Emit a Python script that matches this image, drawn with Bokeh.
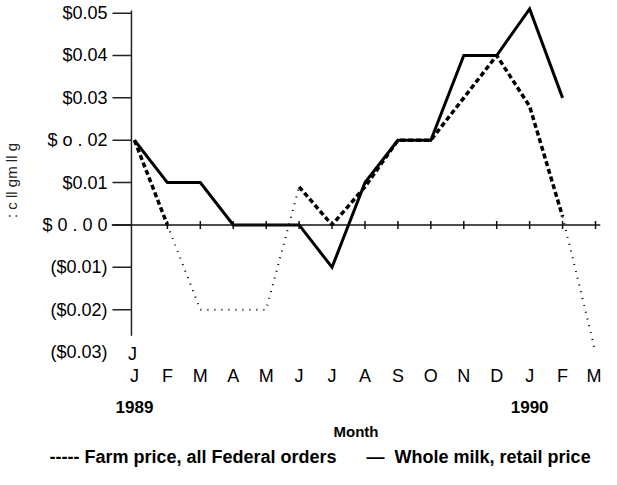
import math
import numpy as np
from bokeh.plotting import figure
from bokeh.models import FixedTicker, LinearAxis, Span, Label, ColumnDataSource, Range1d, Title
from bokeh.embed import file_html
from bokeh.resources import INLINE

# ---------------- data ----------------
month_labels = ["J", "F", "M", "A", "M", "J", "J", "A", "S", "O", "N", "D", "J", "F", "M"]
month_idx = list(range(len(month_labels)))
year_ticks = [0, 12]
year_labels = ["1989", "1990"]
# Farm price, all Federal orders
farm_price = [0.020, 0.000, -0.020, -0.020, -0.020, 0.009, 0.000, 0.009, 0.020,
              0.020, 0.030, 0.040, 0.028, 0.002, -0.030]
# Whole milk, retail price
retail_price = [0.020, 0.010, 0.010, 0.000, 0.000, 0.000, -0.010, 0.010, 0.020,
                0.020, 0.040, 0.040, 0.051, 0.030, float("nan")]
y_ticks = [-0.03, -0.02, -0.01, 0.0, 0.01, 0.02, 0.03, 0.04, 0.05]
y_tick_labels = ["($0.03)", "($0.02)", "($0.01)", "$ 0 . 0 0", "$0.01", "$ o . 02",
                 "$0.03", "$0.04", "$0.05"]
x_title = "Month"
y_title = ": c ll gm ll g"
legend_text = ("----- Farm price, all Federal orders" + "\u00a0" * 6 +
               "\u2014\u00a0 Whole milk, retail price")
axis_mark = "J"

FONT = "Liberation Sans"
INK = "#000"

# pixel -> data helpers (layout positions only)
def dx(px):
    return (px - 133) / 33.0

def dy(py):
    return (225.7 - py) / 4260.0

W, H = 601, 469
FRAME_BOTTOM = 362
p = figure(width=W, height=H, output_backend="svg", toolbar_location=None,
           x_range=Range1d(dx(110), dx(600)), y_range=Range1d(dy(FRAME_BOTTOM), dy(0)),
           min_border_left=110, min_border_right=1, min_border_top=0,
           min_border_bottom=H - FRAME_BOTTOM)
p.outline_line_color = None
p.xgrid.grid_line_color = None
p.ygrid.grid_line_color = None
p.background_fill_color = "white"
p.border_fill_color = "white"

# y axis: labels from Bokeh, axis line + ticks drawn inside the frame
ya = p.yaxis[0]
ya.ticker = FixedTicker(ticks=y_ticks)
ya.major_label_overrides = dict(zip(y_ticks, y_tick_labels))
ya.axis_line_color = None
ya.major_tick_line_color = None
ya.minor_tick_line_color = None
ya.major_tick_out = 0
ya.major_tick_in = 0
ya.minor_tick_out = 0
ya.minor_tick_in = 0
ya.major_label_standoff = 4
ya.major_label_text_font = FONT
ya.major_label_text_font_size = "18px"
ya.major_label_text_color = INK
ya.axis_label = y_title
ya.axis_label_text_font = FONT
ya.axis_label_text_font_size = "15px"
ya.axis_label_text_font_style = "normal"
ya.axis_label_text_color = "#222"
ya.axis_label_standoff = 19

# month axis
xa = p.xaxis[0]
xa.ticker = FixedTicker(ticks=month_idx)
xa.major_label_overrides = dict(zip(month_idx, month_labels))
xa.axis_line_color = None
xa.major_tick_line_color = None
xa.minor_tick_line_color = None
xa.major_tick_out = 0
xa.major_tick_in = 0
xa.minor_tick_out = 0
xa.minor_tick_in = 0
xa.major_label_standoff = 5
xa.major_label_text_font = FONT
xa.major_label_text_font_size = "18px"
xa.major_label_text_color = INK

# year axis + "Month" title
yr = LinearAxis(ticker=FixedTicker(ticks=year_ticks),
                major_label_overrides=dict(zip(year_ticks, year_labels)),
                axis_label=x_title)
yr.axis_line_color = None
yr.major_tick_line_color = None
yr.minor_tick_line_color = None
yr.major_tick_out = 0
yr.major_tick_in = 0
yr.minor_tick_out = 0
yr.minor_tick_in = 0
yr.major_label_standoff = 12
yr.major_label_text_font = FONT
yr.major_label_text_font_size = "17px"
yr.major_label_text_font_style = "bold"
yr.major_label_text_color = INK
yr.axis_label_text_font = FONT
yr.axis_label_text_font_size = "15px"
yr.axis_label_text_font_style = "bold"
yr.axis_label_text_color = INK
yr.axis_label_standoff = 7
p.add_layout(yr, "below")

# legend line (text, as in the reference)
leg = Title(text=legend_text, align="left", offset=48 - 110, standoff=5,
            text_font=FONT, text_font_size="18px", text_font_style="bold",
            text_color=INK)
p.add_layout(leg, "below")

# vertical axis line and its ticks
p.segment(x0=[dx(130)], y0=[dy(337)], x1=[dx(130)], y1=[dy(10)],
          line_color="#222", line_width=1.5)
tick_vals = y_ticks[1:]
p.segment(x0=[dx(111)] * len(tick_vals), y0=tick_vals, x1=[dx(130)] * len(tick_vals),
          y1=tick_vals, line_color="#222", line_width=1.5)

# zero line with month ticks
p.add_layout(Span(location=0, dimension="width", line_color="#111", line_width=1.5))
p.scatter(month_idx[1:], [0.0] * (len(month_idx) - 1), marker="dash", angle=math.pi / 2,
          size=8, line_color="#111", line_width=1.5)

farm = np.array(farm_price, dtype=float)
retail = np.array(retail_price, dtype=float)
idx = np.array(month_idx)
heavy_mask = (idx <= 1) | ((idx >= 5) & (idx <= 13))
faint_mask = ((idx >= 1) & (idx <= 5)) | (idx >= 13)
src = ColumnDataSource(dict(
    x=idx.astype(float),
    retail=retail,
    farm_heavy=np.where(heavy_mask, farm, np.nan),
    farm_faint=np.where(faint_mask, farm, np.nan),
))

p.line("x", "farm_faint", source=src, line_color=INK, line_width=2, line_dash="1 6")
p.line("x", "farm_heavy", source=src, line_color=INK, line_width=3.5, line_dash="5 3")
p.line("x", "retail", source=src, line_color=INK, line_width=3, line_join="miter")

p.add_layout(Label(x=dx(131), y=dy(355), x_units="data", y_units="data", text=axis_mark,
                   text_font=FONT, text_font_size="18px", text_align="center",
                   text_baseline="middle", text_color=INK))

open("out.html", "w").write(file_html(p, INLINE))
